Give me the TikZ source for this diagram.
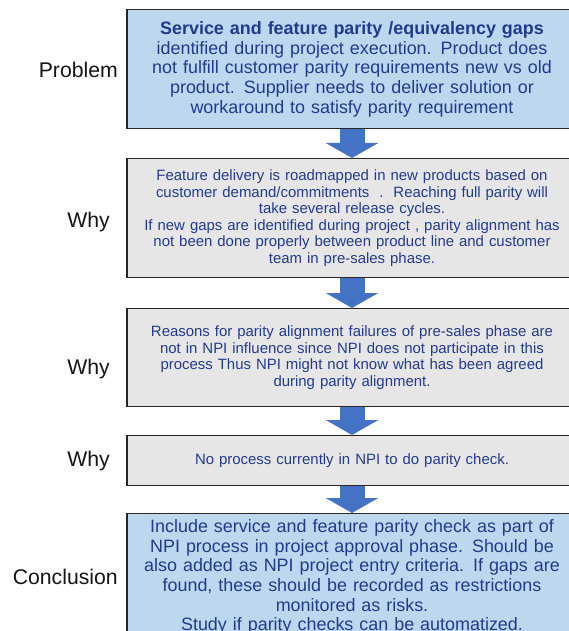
\documentclass[tikz,border=0pt]{standalone}
\usepackage{fontspec}
\setmainfont{Liberation Sans}
\usetikzlibrary{arrows.meta}

\definecolor{txtblue}{RGB}{34,58,140}
\definecolor{probfill}{RGB}{189,215,238}
\definecolor{whyfill}{RGB}{231,230,230}
\definecolor{arrowblue}{RGB}{68,114,196}
\definecolor{edgegray}{RGB}{38,38,38}
\definecolor{labelgray}{RGB}{20,20,20}

\begin{document}
\begin{tikzpicture}[x=1bp,y=-1bp,
  box/.style={draw=edgegray, line width=1.3bp, minimum width=450bp,
    text width=446bp, align=center, text=txtblue, inner sep=0pt, anchor=north},
  bluebox/.style={box, fill=probfill},
  graybox/.style={box, fill=whyfill},
  bigtext/.style={font=\fontsize{18}{19.7}\selectfont},
  smalltext/.style={font=\fontsize{15}{16.5}\selectfont},
  steplabel/.style={anchor=east, text=labelgray, inner sep=0pt,
    font=\fontsize{21.3}{24}\selectfont},
  flow/.style={line width=25bp, draw=arrowblue,
    -{Triangle[width=52bp,length=15bp]}}]

\useasboundingbox (0,0) rectangle (569,631);
\clip (0,0) rectangle (569,631);

% chain of boxes
\node[bluebox, bigtext, minimum height=119bp] (problem) at (352,9)
  {{\bfseries Service and feature parity /equivalency gaps}\\
   identified during project execution. Product does\\
   not fulfill customer parity requirements new vs old\\
   product. Supplier needs to deliver solution or\\
   workaround to satisfy parity requirement};

\node[graybox, smalltext, minimum height=119bp] (whyA) at (352,158)
  {Feature delivery is roadmapped in new products based on\\
   customer demand/commitments\ \ .\ \ Reaching full parity will\\
   take several release cycles.\\
   If new gaps are identified during project , parity alignment has\\
   not been done properly between product line and customer\\
   team in pre-sales phase.};

\node[graybox, smalltext, minimum height=98bp] (whyB) at (352,308)
  {Reasons for parity alignment failures of pre-sales phase are\\
   not in NPI influence since NPI does not participate in this\\
   process Thus NPI might not know what has been agreed\\
   during parity alignment.};

\node[graybox, smalltext, minimum height=50bp] (whyC) at (352,435)
  {No process currently in NPI to do parity check.};

\node[bluebox, bigtext, minimum height=127bp] (concl) at (352,513)
  {Include service and feature parity check as part of\\
   NPI process in project approval phase. Should be\\
   also added as NPI project entry criteria. If gaps are\\
   found, these should be recorded as restrictions\\
   monitored as risks.\\
   Study if parity checks can be automatized.};

% block arrows between the boxes
\draw[flow] (problem.south) -- (whyA.north);
\draw[flow] (whyA.south) -- (whyB.north);
\draw[flow] (whyB.south) -- (whyC.north);
\draw[flow] (whyC.south) -- (concl.north);

% row labels
\node[steplabel] (lblProblem) at (118,70) {Problem};
\node[steplabel] (lblWhyA) at (110,222) {Why};
\node[steplabel] (lblWhyB) at (110,369) {Why};
\node[steplabel] (lblWhyC) at (110,461) {Why};
\node[steplabel] (lblConcl) at (118,577) {Conclusion};
\end{tikzpicture}
\end{document}
